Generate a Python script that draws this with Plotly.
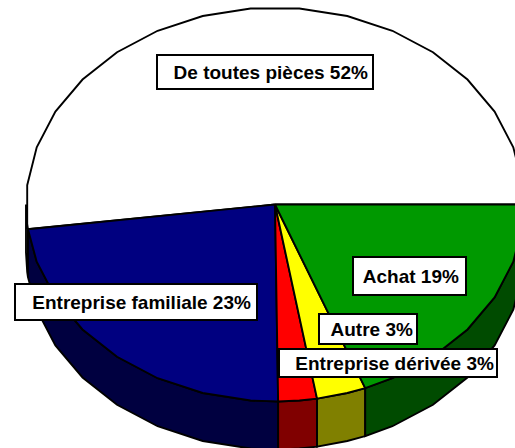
import numpy as np
import plotly.graph_objects as go

categories = ["De toutes pièces", "Entreprise familiale", "Entreprise dérivée", "Autre", "Achat"]
values = [52.0, 23.2, 2.5, 3.2, 19.1]
shown_pct = [52, 23, 3, 3, 19]
top_colors = ["#FFFFFF", "#000080", "#FF0000", "#FFFF00", "#009900"]
side_colors = ["#FFFFFF", "#000040", "#800000", "#808000", "#004B00"]

# label box centre + size (px in the 515x448 frame)
box_cx = [265, 136, 388, 368, 409.5]
box_cy = [72, 302, 363, 329, 276]
box_w = [218, 244, 220, 100, 115]
box_h = [30, 30, 28, 28, 30]
box_pad = [4, 5, 2, 3, 6]
labels = [f"{c} {p}%" for c, p in zip(categories, shown_pct)]

CX, CY, RX, RY, DEPTH = 275, 204.5, 249, 197, 48
STEP = 11.25


def arc(a0, a1):
    base = np.arange(5.625, 720, STEP)
    inner = base[(base > a0 + 0.3) & (base < a1 - 0.3)]
    ang = np.radians(np.concatenate([[a0], inner, [a1]]))
    return CX + RX * np.cos(ang), CY - RY * np.sin(ang)


edges = np.concatenate([[0], np.cumsum(values) / sum(values) * 360])
fig = go.Figure()


def poly(x, y, color, width=1.9):
    fig.add_trace(go.Scatter(
        x=x, y=y, mode="lines", fill="toself", fillcolor=color,
        line=dict(color="black", width=width), hoverinfo="skip", showlegend=False))


# sides (visible lower half only)
for i in range(len(values)):
    a0, a1 = max(edges[i], 180), edges[i + 1]
    if a1 <= 180:
        continue
    x, y = arc(a0, a1)
    poly(np.concatenate([x, x[::-1], x[:1]]),
         np.concatenate([y, y[::-1] + DEPTH, y[:1]]), side_colors[i])

# top faces
for i in range(len(values)):
    x, y = arc(edges[i], edges[i + 1])
    poly(np.concatenate([[CX], x, [CX]]), np.concatenate([[CY], y, [CY]]), top_colors[i])

annotations = [
    dict(x=cx, y=cy, xref="x", yref="y", text=f"<b>{lab}</b>", showarrow=False,
         width=w - 4 - 2 * p, height=h - 6, align="right", valign="middle",
         font=dict(family="Liberation Sans, Arial, sans-serif", size=19, color="black"),
         bgcolor="white", bordercolor="black", borderwidth=2, borderpad=p)
    for lab, cx, cy, w, h, p in zip(labels, box_cx, box_cy, box_w, box_h, box_pad)
]

fig.update_layout(
    width=515, height=448, autosize=False,
    margin=dict(l=0, r=0, t=0, b=0),
    paper_bgcolor="white", plot_bgcolor="white", showlegend=False,
    xaxis=dict(range=[0, 515], visible=False, fixedrange=True),
    yaxis=dict(range=[448, 0], visible=False, fixedrange=True),
    annotations=annotations,
)
fig.write_html("out.html", config={"displayModeBar": False},
               post_script="document.body.style.margin='0';document.documentElement.style.overflow='hidden';")
